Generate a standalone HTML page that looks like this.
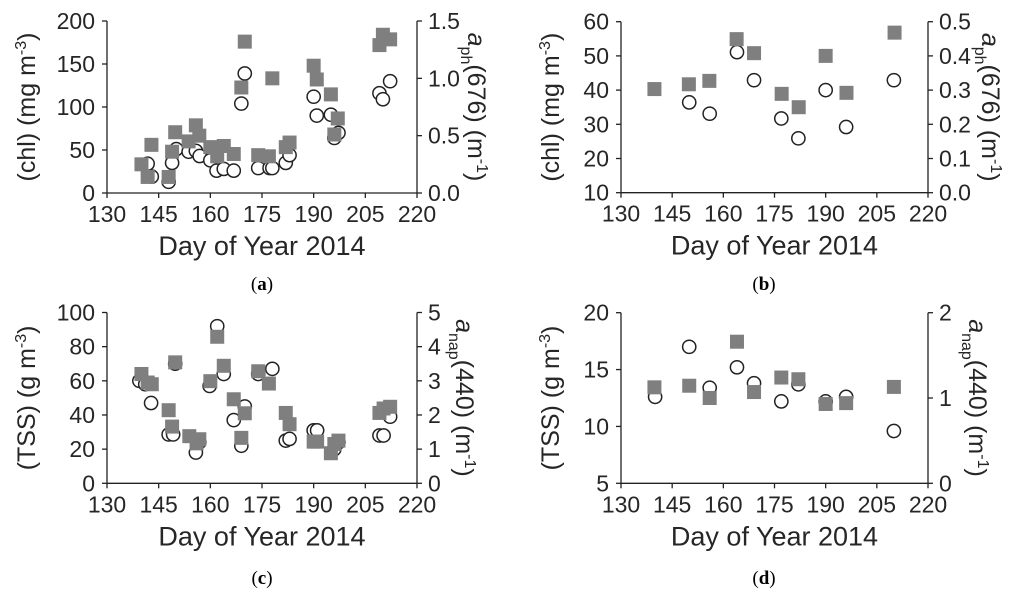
<!DOCTYPE html>
<html><head><meta charset="utf-8">
<style>
html,body{margin:0;padding:0;background:#fff;}
svg{display:block;font-family:"Liberation Sans",sans-serif;}
.cap{font-family:"Liberation Serif",serif;font-size:19px;}
</style></head>
<body>
<svg id="fig" width="1024" height="595" viewBox="0 0 1024 595" xmlns="http://www.w3.org/2000/svg">
<text class="cap" x="262" y="290" text-anchor="middle">(<tspan font-weight="bold">a</tspan>)</text>
<text class="cap" x="764" y="290" text-anchor="middle">(<tspan font-weight="bold">b</tspan>)</text>
<text class="cap" x="262" y="584" text-anchor="middle">(<tspan font-weight="bold">c</tspan>)</text>
<text class="cap" x="764" y="584" text-anchor="middle">(<tspan font-weight="bold">d</tspan>)</text>
</svg>
<script>
// Panel a data
const aCircDays=[141.8,143,147.9,148.9,150.1,153.7,155.8,156.9,160,161.8,163.9,166.8,170,169,173.9,177.2,178,181.9,183,190,190.9,195,196,197.2,209.1,210.1,212.2];
const aCircVals=[34,19,13,35,51,48,49,43,38,26,28,26,139,104,29,29,29,35,44,112,90,91,64,70,116,109,130];
const aSqDays=[140,142.9,141.8,147.9,148.9,149.8,153.7,155.8,156.8,160,162,163.9,166.8,170,169,178,173.9,177,181.9,183,190,190.9,195,197,196,209.1,210.1,212.2];
const aSqVals=[0.25,0.42,0.14,0.14,0.36,0.53,0.45,0.59,0.50,0.40,0.32,0.41,0.34,1.32,0.92,1.0,0.33,0.32,0.40,0.44,1.11,0.99,0.86,0.65,0.51,1.29,1.38,1.34];
// Panel b data
const bCircDays=[150,156,164,169,177,182,190,196,210];
const bCircVals=[36.4,33.1,51.1,42.9,31.7,25.9,40,29.2,42.9];
const bSqDays=[139.8,149.9,155.9,163.9,169,177.1,182.1,190,196.1,210.2];
const bSqVals=[0.303,0.317,0.327,0.449,0.408,0.289,0.25,0.40,0.292,0.468];
// Panel c data
const cCircDays=[139.4,141.1,142.8,147.9,149.2,149.8,155.8,156.8,159.8,162,163.9,166.8,170,169,173.9,178,181.9,183,190,191,196,197.2,209.1,210.3,212.2];
const cCircVals=[60,58,47,28.6,28.6,70,18,24,57,92,64,37,45,22,64,67,25,26,31,31,20,24,28,28,39];
const cSqDays=[140,141.8,143,149.8,147.9,148.9,153.9,156.8,156,160,162,163.9,166.8,170,169,173.9,177,181.9,183,190,191,195,196,197.2,209.1,210.3,212.2];
const cSqVals=[3.2,2.95,2.9,3.54,2.14,1.66,1.38,1.29,1.17,2.99,4.29,3.44,2.46,2.05,1.33,3.28,2.92,2.06,1.73,1.22,1.22,0.88,1.15,1.25,2.06,2.19,2.24];
// Panel d data
const dCircDays=[140,150,156,164,169,177,182,190,196,210];
const dCircVals=[12.6,17.0,13.4,15.2,13.8,12.2,13.7,12.2,12.6,9.6];
const dSqDays=[139.8,150,156,164,169,177,182,190,196,210];
const dSqVals=[1.125,1.144,1.0,1.66,1.07,1.24,1.22,0.93,0.94,1.13];
const xTicks=[130,145,160,175,190,205,220];
const aLeftTicks=[0,50,100,150,200];
const aRightTicks=["0.0","0.5","1.0","1.5"];
const bLeftTicks=[10,20,30,40,50,60];
const bRightTicks=["0.0","0.1","0.2","0.3","0.4","0.5"];
const cLeftTicks=[0,20,40,60,80,100];
const cRightTicks=["0","1","2","3","4","5"];
const dLeftTicks=[5,10,15,20];
const dRightTicks=["0","1","2"];

const NS="http://www.w3.org/2000/svg";
const svg=document.getElementById('fig');
function mk(tag,attrs,parent){const e=document.createElementNS(NS,tag);for(const k in attrs)e.setAttribute(k,attrs[k]);(parent||svg).appendChild(e);return e;}
const FS=23, TFS=25, XFS=27, COL='#262626';

function panel(id,P){
  const g=mk('g',{});
  
  
  const L=P.x0,R=P.x1,T=P.y0,B=P.y1;
  const xs=d=>L+(d-130)/90*(R-L);
  const yl=v=>B-(v-P.lmin)/(P.lmax-P.lmin)*(B-T);
  const yr=v=>B-(v-P.rmin)/(P.rmax-P.rmin)*(B-T);
  const st={stroke:'#222','stroke-width':1.3};
  const ax=mk('path',Object.assign({d:`M${L},${T}V${B}H${R}V${T}`,fill:'none'},st),g);
  
  
  xTicks.forEach(t=>{
    const x=xs(t);
    mk('line',Object.assign({x1:x,x2:x,y1:B,y2:B+5},st),g);
    const tx=mk('text',{x:x,y:B+29,'text-anchor':'middle','font-size':FS,fill:COL},g);
    tx.textContent=t;
    
    
  });
  P.lt.forEach(t=>{
    const y=yl(+t);
    mk('line',Object.assign({x1:L-5,x2:L,y1:y,y2:y},st),g);
    const tx=mk('text',{x:L-12,y:y+8,'text-anchor':'end','font-size':FS,fill:COL},g);
    tx.textContent=t;
    
    
  });
  P.rt.forEach(t=>{
    const y=yr(+t);
    mk('line',Object.assign({x1:R,x2:R+5,y1:y,y2:y},st),g);
    const tx=mk('text',{x:R+11,y:y+8,'text-anchor':'start','font-size':FS,fill:COL},g);
    tx.textContent=t;
    
    
  });
  const xt=mk('text',{x:(L+R)/2,y:B+62,'text-anchor':'middle','font-size':XFS,fill:COL},g);
  xt.textContent='Day of Year 2014';
  
  
  const cy=(T+B)/2;
  const lt=mk('text',{x:0,y:0,'text-anchor':'middle','font-size':TFS,fill:COL,transform:`translate(${P.ltx},${cy}) rotate(-90)`},g);
  lt.innerHTML=P.ltitle;
  
  
  const rt=mk('text',{x:0,y:0,'text-anchor':'middle','font-size':TFS,fill:COL,transform:`translate(${P.rtx},${cy}) rotate(90)`},g);
  rt.innerHTML=P.rtitle;
  
  
  P.cd.forEach((d,i)=>{
    const c=mk('circle',{cx:xs(d),cy:yl(P.cv[i]),r:6.6,fill:'#fff',stroke:'#222','stroke-width':1.5},g);
    
    
  });
  P.sd.forEach((d,i)=>{
    const s=mk('rect',{x:xs(d)-7,y:yr(P.sv[i])-7,width:14,height:14,fill:'#7f7f7f'},g);
    
    
  });
}
const supm3='<tspan dy="-9" font-size="16">-3</tspan><tspan dy="9">)</tspan>';
const supm1='<tspan dy="-9" font-size="16">-1</tspan><tspan dy="9">)</tspan>';
panel('a',{x0:107,x1:417,y0:21,y1:193,lmin:0,lmax:200,rmin:0,rmax:1.5,lt:aLeftTicks,rt:aRightTicks,cd:aCircDays,cv:aCircVals,sd:aSqDays,sv:aSqVals,ltx:35,rtx:468,
  ltitle:'(chl) (mg m'+supm3,rtitle:'<tspan font-style="italic">a</tspan><tspan dy="7" font-size="16">ph</tspan><tspan dy="-7">(676) (m</tspan>'+supm1});
panel('b',{x0:621,x1:928,y0:21.7,y1:192.7,lmin:10,lmax:60,rmin:0,rmax:0.5,lt:bLeftTicks,rt:bRightTicks,cd:bCircDays,cv:bCircVals,sd:bSqDays,sv:bSqVals,ltx:559,rtx:982,
  ltitle:'(chl) (mg m'+supm3,rtitle:'<tspan font-style="italic">a</tspan><tspan dy="7" font-size="16">ph</tspan><tspan dy="-7">(676) (m</tspan>'+supm1});
panel('c',{x0:107,x1:417,y0:312.5,y1:483.3,lmin:0,lmax:100,rmin:0,rmax:5,lt:cLeftTicks,rt:cRightTicks,cd:cCircDays,cv:cCircVals,sd:cSqDays,sv:cSqVals,ltx:35,rtx:456,
  ltitle:'(TSS) (g m'+supm3,rtitle:'<tspan font-style="italic">a</tspan><tspan dy="7" font-size="16">nap</tspan><tspan dy="-7">(440) (m</tspan>'+supm1});
panel('d',{x0:621,x1:928,y0:312.7,y1:483.3,lmin:5,lmax:20,rmin:0,rmax:2,lt:dLeftTicks,rt:dRightTicks,cd:dCircDays,cv:dCircVals,sd:dSqDays,sv:dSqVals,ltx:559,rtx:969,
  ltitle:'(TSS) (g m'+supm3,rtitle:'<tspan font-style="italic">a</tspan><tspan dy="7" font-size="16">nap</tspan><tspan dy="-7">(440) (m</tspan>'+supm1});
</script>
</body></html>
